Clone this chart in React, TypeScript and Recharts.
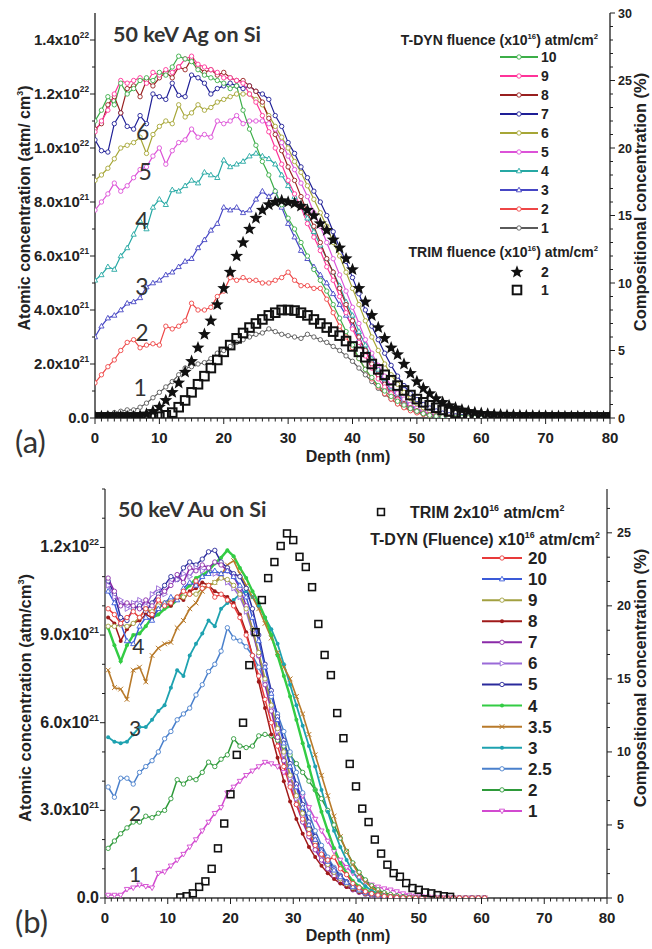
import React from "react";
import { ComposedChart, Line, XAxis, YAxis, ReferenceDot } from "recharts";

// ---------- panel (a): 50 keV Ag on Si, concentration in 1e21 atm/cm3 ----------
const depthA = [
  0, 1, 2, 3, 4, 5, 6, 7, 8, 9, 10, 11, 12, 13, 14, 15, 16, 17, 18, 19, 20,
  21, 22, 23, 24, 25, 26, 27, 28, 29, 30, 31, 32, 33, 34, 35, 36, 37, 38, 39, 40,
  41, 42, 43, 44, 45, 46, 47, 48, 49, 50, 51, 52, 53, 54, 55, 56, 57, 58, 59, 60,
  61, 62, 63, 64, 65, 66, 67, 68, 69, 70, 71, 72, 73, 74, 75, 76, 77, 78, 79, 80,
];

const agTdyn10 = [
  11.0, 11.4, 11.9, 11.6, 12.4, 12.0, 12.2, 12.5, 12.6, 12.5,
  12.8, 12.7, 13.0, 13.4, 13.3, 13.2, 12.9, 12.7, 12.6, 12.5,
  12.4, 12.2, 12.3, 11.4, 10.7, 10.1, 9.5, 9.0, 8.4, 7.9,
  7.4, 7.0, 6.5, 6.0, 5.5, 5.1, 4.7, 4.2, 3.7, 3.2,
  2.7, 2.2, 1.8, 1.5, 1.2, 1.0, 0.8, 0.62, 0.48, 0.35,
  0.25, 0.16, 0.1, 0.07, 0.05, 0.03, 0.02, 0.02, 0.01, 0.01, 0,
];
const agTdyn9 = [
  10.6, 11.0, 11.4, 12.0, 12.5, 12.4, 12.5, 12.6, 12.4, 12.8,
  12.7, 12.9, 12.8, 13.0, 13.3, 13.4, 13.1, 13.0, 12.9, 12.8,
  12.6, 12.6, 12.5, 12.4, 12.0, 11.7, 11.2, 10.6, 10.0, 9.4,
  8.8, 8.3, 7.8, 7.2, 6.7, 6.2, 5.6, 5.1, 4.5, 3.9,
  3.3, 2.8, 2.3, 1.85, 1.45, 1.15, 0.9, 0.68, 0.5, 0.36,
  0.25, 0.17, 0.11, 0.07, 0.05, 0.03, 0.02, 0.01, 0.01, 0, 0,
];
const agTdyn8 = [
  10.7, 10.9, 11.6, 11.9, 11.3, 12.2, 12.3, 11.9, 12.5, 12.3,
  12.6, 12.8, 12.6, 13.0, 12.9, 13.3, 13.0, 12.8, 12.9, 12.7,
  12.8, 12.6, 12.5, 12.5, 12.3, 12.1, 11.7, 11.1, 10.5, 9.9,
  9.3, 8.8, 8.2, 7.6, 7.1, 6.5, 5.9, 5.4, 4.8, 4.2,
  3.6, 3.0, 2.5, 2.0, 1.6, 1.25, 0.95, 0.72, 0.53, 0.38,
  0.27, 0.18, 0.12, 0.08, 0.05, 0.03, 0.02, 0.01, 0.01, 0, 0,
];
const agTdyn7 = [
  10.3, 9.9, 9.85, 10.9, 11.3, 10.8, 10.7, 11.2, 10.9, 12.0,
  11.9, 11.8, 12.4, 11.95, 11.9, 12.7, 12.6, 12.4, 12.0, 12.2,
  12.3, 12.4, 12.3, 12.2, 12.3, 12.1, 12.0, 11.8, 11.2, 10.8,
  10.2, 9.8, 9.3, 8.9, 8.4, 8.0, 7.5, 6.9, 6.3, 5.8,
  5.2, 4.6, 4.0, 3.4, 2.9, 2.4, 1.95, 1.55, 1.2, 0.9,
  0.68, 0.5, 0.37, 0.26, 0.18, 0.12, 0.08, 0.05, 0.03, 0.02, 0.01,
];
const agTdyn6 = [
  8.8, 9.0, 9.25, 9.6, 10.0, 10.1, 10.2, 10.4, 9.8, 10.5,
  10.8, 11.0, 10.9, 11.6, 11.15, 11.3, 11.6, 11.4, 11.5, 11.7,
  11.8, 11.9, 12.0, 12.0, 12.0, 11.8, 11.6, 11.2, 10.8, 10.4,
  10.0, 9.5, 9.1, 8.6, 8.1, 7.6, 7.1, 6.5, 6.0, 5.4,
  4.8, 4.2, 3.6, 3.0, 2.5, 2.0, 1.6, 1.25, 0.95, 0.72,
  0.53, 0.38, 0.27, 0.19, 0.13, 0.09, 0.06, 0.04, 0.02, 0.01, 0,
];
const agTdyn5 = [
  7.7, 8.0, 8.3, 8.7, 8.4, 8.6, 8.9, 9.2, 9.3, 9.7,
  10.0, 9.4, 9.9, 10.2, 10.3, 10.7, 10.4, 10.5, 10.4, 11.0,
  10.9, 11.0, 11.2, 10.9, 11.0, 11.0, 11.0, 10.9, 10.7, 10.2,
  9.7, 9.2, 8.7, 8.2, 7.6, 7.1, 6.5, 5.9, 5.3, 4.7,
  4.1, 3.5, 2.9, 2.4, 1.95, 1.55, 1.2, 0.92, 0.7, 0.5,
  0.36, 0.25, 0.17, 0.11, 0.07, 0.05, 0.03, 0.02, 0.01, 0, 0,
];
const agTdyn4 = [
  5.1, 5.3, 5.6, 5.5, 6.0, 6.3, 6.8, 7.3, 7.0, 7.8,
  8.1, 7.9, 8.45, 8.4, 8.6, 8.8, 8.7, 9.1, 9.0, 8.9,
  9.55, 9.3, 9.4, 9.5, 9.7, 9.8, 9.7, 9.6, 9.4, 9.0,
  8.6, 8.2, 7.8, 7.4, 6.9, 6.4, 5.9, 5.4, 4.9, 4.3,
  3.8, 3.2, 2.7, 2.2, 1.8, 1.45, 1.15, 0.88, 0.66, 0.48,
  0.34, 0.24, 0.16, 0.1, 0.07, 0.04, 0.03, 0.02, 0.01, 0, 0,
];
const agTdyn3 = [
  3.0, 3.4, 3.7, 3.8, 4.0, 4.25, 4.3, 4.45, 4.85, 5.0,
  5.1, 5.3, 5.4, 5.6, 5.8, 5.9, 6.3, 6.6, 6.95, 7.2,
  7.8, 7.7, 7.8, 7.6, 7.7, 8.1, 8.4, 8.2, 8.4, 7.8,
  7.2, 6.7, 6.2, 5.9, 5.6, 5.3, 5.0, 4.6, 4.2, 3.8,
  3.4, 2.9, 2.5, 2.1, 1.7, 1.35, 1.05, 0.8, 0.6, 0.44,
  0.32, 0.22, 0.15, 0.1, 0.07, 0.04, 0.03, 0.02, 0.01, 0, 0,
];
const agTdyn2 = [
  1.3, 1.6, 1.9, 2.15, 2.5, 2.8, 2.9, 2.6, 2.7, 2.75,
  2.7, 3.4, 3.3, 3.4, 3.6, 4.25, 4.0, 4.0, 4.1, 4.5,
  4.7, 5.2, 5.1, 5.2, 5.1, 5.1, 5.0, 5.0, 5.1, 5.2,
  5.4, 5.1, 4.9, 4.9, 4.8, 4.8, 4.4, 3.9, 3.4, 3.0,
  2.6, 2.2, 1.8, 1.45, 1.15, 0.9, 0.7, 0.52, 0.38, 0.27,
  0.19, 0.13, 0.09, 0.06, 0.04, 0.03, 0.02, 0.01, 0, 0, 0,
];
const agTdyn1 = [
  0.1, 0.1, 0.15, 0.2, 0.25, 0.3, 0.3, 0.4, 0.55, 0.75,
  0.95, 1.15, 1.35, 1.6, 1.85, 1.9, 2.0, 2.05, 2.2, 2.4,
  2.5, 2.65, 2.8, 2.9, 3.0, 3.1, 3.15, 3.3, 3.2, 3.1,
  3.05, 3.0, 2.95, 3.1, 3.0, 2.9, 2.8, 2.65, 2.5, 2.3,
  2.1, 1.85, 1.6, 1.35, 1.1, 0.88, 0.7, 0.53, 0.4, 0.3,
  0.22, 0.15, 0.1, 0.07, 0.05, 0.03, 0.02, 0.01, 0.01, 0, 0,
];
const agTrim2 = [
  0.05, 0.05, 0.05, 0.05, 0.05, 0.05, 0.05, 0.08, 0.15, 0.25,
  0.4, 0.65, 0.95, 1.3, 1.7, 2.1, 2.6, 3.1, 3.6, 4.2,
  4.8, 5.4, 6.0, 6.5, 7.0, 7.4, 7.7, 7.9, 8.0, 8.05,
  8.0, 7.95, 7.85, 7.7, 7.5, 7.2, 6.95, 6.6, 6.3, 5.9,
  5.5, 4.8, 4.3, 3.8, 3.35, 2.95, 2.6, 2.35, 2.0, 1.65,
  1.35, 1.1, 0.9, 0.72, 0.58, 0.46, 0.38, 0.3, 0.25, 0.2,
  0.17, 0.15, 0.13, 0.12, 0.1, 0.1, 0.09, 0.08, 0.08, 0.07,
  0.07, 0.06, 0.06, 0.05, 0.05, 0.05, 0.05, 0.04, 0.04, 0.04, 0.04,
];
const agTrim1 = [
  0.02, 0.02, 0.02, 0.02, 0.02, 0.02, 0.02, 0.02, 0.02, 0.03,
  0.05, 0.1, 0.2, 0.4, 0.65, 0.95, 1.25, 1.55, 1.85, 2.15,
  2.45, 2.7, 2.95, 3.15, 3.35, 3.5, 3.65, 3.8, 3.9, 4.0,
  4.0, 3.98, 3.9, 3.8, 3.65, 3.5, 3.35, 3.2, 3.05, 2.85,
  2.65, 2.45, 2.25, 2.0, 1.8, 1.6, 1.4, 1.2, 1.02, 0.85,
  0.7, 0.58, 0.47, 0.38, 0.3, 0.24, 0.19, 0.15, 0.11, 0.08,
  0.06, 0.05, 0.04, 0.03, 0.03, 0.02, 0.02, 0.02, 0.02, 0.02,
  0.02, 0.02, 0.02, 0.02, 0.02, 0.02, 0.02, 0.02, 0.02, 0.02, 0.02,
];

// ---------- panel (b): 50 keV Au on Si ----------
const depthB = [
  0.5, 1.5, 2.5, 3.5, 4.5, 5.5, 6.5, 7.5, 8.5, 9.5, 10.5, 11.5, 12.5, 13.5, 14.5,
  15.5, 16.5, 17.5, 18.5, 19.5, 20.5, 21.5, 22.5, 23.5, 24.5, 25.5, 26.5, 27.5,
  28.5, 29.5, 30.5, 31.5, 32.5, 33.5, 34.5, 35.5, 36.5, 37.5, 38.5, 39.5, 40.5,
  41.5, 42.5, 43.5, 44.5, 45.5, 46.5, 47.5, 48.5, 49.5, 50.5, 51.5, 52.5, 53.5,
  54.5, 55.5, 56.5, 57.5, 58.5, 59.5, 60.5,
];

const auTdyn20 = [
  9.9, 9.7, 9.4, 9.6, 9.8, 9.6, 9.9, 9.7, 10.2, 10.0,
  10.1, 10.3, 10.5, 10.4, 10.85, 10.6, 10.7, 10.3, 10.4, 10.2,
  10.0, 9.6, 9.0, 8.3, 7.6, 6.8, 6.0, 5.2, 4.5, 3.8,
  3.2, 2.7, 2.2, 1.8, 1.5, 1.3, 1.4, 1.0, 0.8, 0.5,
  0.35, 0.22, 0.15, 0.1, 0.06, 0.04, 0.02, 0.01, 0, 0,
  0, 0, 0, 0, 0, 0, 0, 0, 0, 0, 0,
];
const auTdyn10 = [
  10.5, 10.1, 9.4, 8.8, 8.7, 9.3, 9.6, 9.5, 9.9, 10.1,
  10.3, 10.2, 10.6, 10.8, 10.7, 11.0, 11.1, 11.2, 11.1, 11.2,
  11.0, 10.7, 10.3, 9.6, 8.8, 7.9, 7.0, 6.1, 5.3, 4.5,
  3.8, 3.1, 2.5, 2.0, 1.6, 1.25, 0.95, 0.72, 0.53, 0.38,
  0.27, 0.19, 0.13, 0.09, 0.06, 0.04, 0.02, 0.01, 0, 0,
  0, 0, 0, 0, 0, 0, 0, 0, 0, 0, 0,
];
const auTdyn9 = [
  9.3, 9.3, 9.35, 9.3, 9.4, 9.6, 9.9, 9.8, 10.0, 10.1,
  10.2, 10.3, 10.3, 10.4, 10.4, 10.6, 10.7, 10.8, 10.95, 10.9,
  10.7, 10.4, 9.9, 9.2, 8.4, 7.5, 6.6, 5.8, 5.0, 4.2,
  3.5, 2.9, 2.35, 1.9, 1.5, 1.15, 0.88, 0.66, 0.48, 0.35,
  0.25, 0.17, 0.11, 0.07, 0.05, 0.03, 0.02, 0.01, 0, 0,
  0, 0, 0, 0, 0, 0, 0, 0, 0, 0, 0,
];
const auTdyn8 = [
  9.6, 9.4, 8.8, 9.2, 9.4, 9.5, 9.7, 9.6, 9.9, 10.1,
  10.0, 10.3, 10.2, 10.5, 10.6, 10.8, 10.7, 10.5, 10.4, 10.3,
  10.1, 9.7, 9.1, 8.3, 7.4, 6.5, 5.6, 4.8, 4.0, 3.3,
  2.7, 2.2, 1.75, 1.4, 1.1, 0.85, 0.65, 0.5, 0.38, 0.28,
  0.2, 0.14, 0.1, 0.07, 0.05, 0.03, 0.02, 0.01, 0, 0,
  0, 0, 0, 0, 0, 0, 0, 0, 0, 0, 0,
];
const auTdyn7 = [
  10.95, 10.5, 10.0, 10.1, 10.0, 9.9, 10.2, 10.0, 10.3, 10.5,
  10.7, 11.07, 10.8, 11.3, 11.2, 11.4, 11.3, 11.5, 11.4, 11.2,
  11.0, 10.6, 10.0, 9.2, 8.3, 7.3, 6.4, 5.5, 4.7, 3.9,
  3.2, 2.6, 2.1, 1.65, 1.3, 1.0, 0.75, 0.55, 0.4, 0.28,
  0.19, 0.13, 0.08, 0.05, 0.03, 0.02, 0.01, 0, 0, 0,
  0, 0, 0, 0, 0, 0, 0, 0, 0, 0, 0,
];
const auTdyn6 = [
  10.7, 10.3, 10.2, 9.9, 10.1, 10.2, 10.0, 10.4, 10.6, 10.4,
  10.8, 10.9, 11.1, 11.0, 11.3, 11.2, 11.3, 11.1, 11.0, 10.8,
  10.6, 10.3, 9.8, 9.1, 8.3, 7.4, 6.5, 5.7, 4.9, 4.1,
  3.4, 2.8, 2.2, 1.75, 1.35, 1.05, 0.8, 0.6, 0.45, 0.33,
  0.24, 0.17, 0.12, 0.08, 0.05, 0.03, 0.02, 0.01, 0, 0,
  0, 0, 0, 0, 0, 0, 0, 0, 0, 0, 0,
];
const auTdyn5 = [
  10.85, 10.4, 9.6, 9.5, 9.9, 10.0, 9.8, 10.1, 10.4, 10.7,
  11.0, 10.9, 11.3, 11.5, 11.4, 11.6, 11.85, 11.9, 11.5, 11.3,
  11.1, 11.0, 10.6, 9.9, 9.0, 8.0, 7.1, 6.2, 5.4, 4.6,
  3.9, 3.2, 2.6, 2.1, 1.65, 1.3, 1.0, 0.75, 0.55, 0.4,
  0.28, 0.19, 0.13, 0.08, 0.05, 0.03, 0.02, 0.01, 0, 0,
  0, 0, 0, 0, 0, 0, 0, 0, 0, 0, 0,
];
const auTdyn4 = [
  9.25, 8.65, 8.1, 8.65, 9.0, 9.05, 9.3, 9.6, 9.7, 9.9,
  10.0, 10.2, 10.5, 10.7, 10.95, 11.05, 11.2, 11.45, 11.65, 11.9,
  11.7, 11.3, 10.95, 10.5, 10.1, 9.6, 9.0, 8.3, 7.6, 6.9,
  6.1, 5.3, 4.5, 3.7, 2.95, 2.3, 1.7, 1.2, 0.85, 0.58,
  0.4, 0.27, 0.18, 0.12, 0.08, 0.05, 0.03, 0.02, 0.01, 0,
  0, 0, 0, 0, 0, 0, 0, 0, 0, 0, 0,
];
const auTdyn35 = [
  7.8, 7.2, 7.15, 6.8, 7.8, 7.9, 7.4, 8.3, 8.55, 8.7,
  8.75, 9.25, 9.5, 9.9, 10.1, 10.5, 10.7, 10.8, 11.05, 11.4,
  11.55, 11.1, 10.7, 10.3, 9.9, 9.4, 8.9, 8.4, 7.9, 7.5,
  6.9, 6.3, 5.6, 4.9, 4.2, 3.5, 2.8, 2.1, 1.6, 1.15,
  0.8, 0.55, 0.36, 0.23, 0.14, 0.08, 0.05, 0.03, 0.01, 0,
  0, 0, 0, 0, 0, 0, 0, 0, 0, 0, 0,
];
const auTdyn3 = [
  5.5, 5.35, 5.3, 5.35, 5.6, 5.85, 5.85, 6.1, 6.4, 6.6,
  7.2, 7.8, 7.6, 8.3, 8.7, 9.05, 9.5, 9.3, 9.9, 10.1,
  10.2, 10.4, 10.5, 10.3, 10.0, 9.6, 9.2, 8.7, 8.0, 7.3,
  6.6, 5.9, 5.2, 4.5, 3.7, 2.95, 2.3, 1.75, 1.3, 0.9,
  0.6, 0.4, 0.25, 0.16, 0.1, 0.06, 0.04, 0.02, 0.01, 0,
  0, 0, 0, 0, 0, 0, 0, 0, 0, 0, 0,
];
const auTdyn25 = [
  3.8, 3.45, 4.1, 4.1, 3.9, 4.3, 4.5, 4.7, 5.0, 5.45,
  5.7, 6.1, 6.3, 6.5, 6.95, 7.3, 7.75, 8.0, 8.45, 9.25,
  8.9, 8.8, 8.6, 8.3, 7.9, 7.4, 6.9, 6.3, 5.7, 5.0,
  4.3, 3.6, 2.9, 2.3, 1.8, 1.4, 1.05, 0.78, 0.56, 0.4,
  0.28, 0.19, 0.12, 0.08, 0.05, 0.03, 0.02, 0.01, 0, 0,
  0, 0, 0, 0, 0, 0, 0, 0, 0, 0, 0,
];
const auTdyn2 = [
  1.7, 1.95, 2.2, 2.4, 2.6, 2.6, 2.8, 2.75, 2.9, 3.0,
  3.4, 4.05, 3.9, 4.1, 4.05, 4.3, 4.65, 4.5, 4.75, 4.9,
  5.45, 5.2, 5.15, 5.2, 5.55, 5.6, 5.55, 5.4, 5.2, 4.9,
  4.6, 4.3, 4.0, 3.7, 3.4, 3.0, 2.5, 2.05, 1.6, 1.2,
  0.88, 0.62, 0.42, 0.28, 0.18, 0.12, 0.08, 0.05, 0.03, 0.02,
  0.01, 0.01, 0, 0, 0, 0, 0, 0, 0, 0, 0,
];
const auTdyn1 = [
  0.1, 0.1, 0.1, 0.3, 0.35, 0.45, 0.4, 0.35, 0.85, 0.9,
  1.1, 1.3, 1.5, 1.75, 2.0, 2.3, 2.6, 2.9, 3.1, 3.6,
  3.8, 4.0, 4.2, 4.35, 4.5, 4.65, 4.6, 4.5, 4.3, 4.1,
  3.8, 3.5, 3.1, 2.7, 2.3, 1.95, 1.6, 1.3, 1.05, 0.85,
  0.7, 0.55, 0.45, 0.38, 0.32, 0.28, 0.22, 0.15, 0.1, 0.07,
  0.05, 0.04, 0.03, 0.02, 0.01, 0.01, 0, 0, 0, 0, 0,
];
const trimDepthB = [
  12, 13, 14, 15, 16, 17, 18, 19, 20, 21, 22, 23, 24, 25, 26, 27, 28, 29, 30, 31,
  32, 33, 34, 35, 36, 37, 38, 39, 40, 41, 42, 43, 44, 45, 46, 47, 48, 49, 50, 51,
  52, 53, 54, 55,
];
const auTrim2 = [
  0.02, 0.06, 0.16, 0.38, 0.57, 1.0, 1.7, 2.55, 3.55, 4.9,
  6.0, 7.97, 9.1, 10.2, 10.95, 11.5, 12.05, 12.48, 12.25, 11.68,
  11.33, 10.64, 9.38, 8.32, 7.63, 6.33, 5.47, 4.59, 3.82, 3.06,
  2.6, 2.0, 1.52, 1.14, 0.85, 0.73, 0.51, 0.34, 0.28, 0.19,
  0.16, 0.1, 0.06, 0.04,
];

// ticks
const concTicksA = [0, 1, 2, 3, 4, 5, 6, 7, 8, 9, 10, 11, 12, 13, 14];
const pctTicksA = [
  0, 1, 2, 3, 4, 5, 6, 7, 8, 9, 10, 11, 12, 13, 14, 15, 16, 17, 18, 19, 20,
  21, 22, 23, 24, 25, 26, 27, 28, 29, 30,
];
const concTicksB = [0, 1, 2, 3, 4, 5, 6, 7, 8, 9, 10, 11, 12, 13, 14];
const pctTicksB = [
  0, 1.67, 3.33, 5, 6.67, 8.33, 10, 11.67, 13.33, 15, 16.67, 18.33, 20, 21.67,
  23.33, 25, 26.67,
];

const agSeries = [
  { name: "1", color: "#5a5a5a", shape: "circle", values: agTdyn1 },
  { name: "2", color: "#ee4646", shape: "circle", values: agTdyn2 },
  { name: "3", color: "#4646c4", shape: "tri", values: agTdyn3 },
  { name: "4", color: "#26a8a4", shape: "tri", values: agTdyn4 },
  { name: "5", color: "#dc52d8", shape: "circle", values: agTdyn5 },
  { name: "6", color: "#a6a636", shape: "circle", values: agTdyn6 },
  { name: "7", color: "#1e1e96", shape: "circle", values: agTdyn7 },
  { name: "8", color: "#981f1f", shape: "circle", values: agTdyn8 },
  { name: "9", color: "#ff3399", shape: "circle", values: agTdyn9 },
  { name: "10", color: "#3cae48", shape: "circle", values: agTdyn10 },
];

const auSeries = [
  { name: "1", color: "#d24ad0", shape: "triDown", values: auTdyn1, w: 1.5 },
  { name: "2", color: "#2e9a3a", shape: "circle", values: auTdyn2, w: 1.5 },
  { name: "2.5", color: "#4a80cc", shape: "circle", values: auTdyn25, w: 1.5 },
  { name: "3", color: "#1ea2b0", shape: "fill", values: auTdyn3, w: 1.8 },
  { name: "3.5", color: "#b87a2a", shape: "cross", values: auTdyn35, w: 1.6 },
  { name: "4", color: "#33cc44", shape: "fill", values: auTdyn4, w: 2.4 },
  { name: "5", color: "#2a2a9c", shape: "circle", values: auTdyn5, w: 1.5 },
  { name: "6", color: "#9a6ad8", shape: "triRight", values: auTdyn6, w: 1.5 },
  { name: "7", color: "#8a2aa8", shape: "circle", values: auTdyn7, w: 1.5 },
  { name: "8", color: "#a01a1a", shape: "fill", values: auTdyn8, w: 1.5 },
  { name: "9", color: "#a2a040", shape: "circle", values: auTdyn9, w: 1.5 },
  { name: "10", color: "#3a5ad8", shape: "tri", values: auTdyn10, w: 1.5 },
  { name: "20", color: "#e83a3a", shape: "circle", values: auTdyn20, w: 1.5 },
];

const curveLabelsA = [
  { t: "6", x: 7.4, y: 10.6 },
  { t: "5", x: 7.8, y: 9.1 },
  { t: "4", x: 7.3, y: 7.3 },
  { t: "3", x: 7.3, y: 4.85 },
  { t: "2", x: 7.3, y: 3.15 },
  { t: "1", x: 7.0, y: 1.1 },
];
const curveLabelsB = [
  { t: "4", x: 5.3, y: 8.6 },
  { t: "3", x: 4.8, y: 5.8 },
  { t: "2", x: 4.8, y: 2.9 },
  { t: "1", x: 4.8, y: 0.8 },
];

const AX = "#1e1e1e";
const ARIAL = "'Liberation Sans', Arial, sans-serif";
const CAL = "Lato, 'Open Sans', sans-serif";

const toPoints = (xs: number[], vs: number[]) =>
  vs.map((v, i) => ({ depth: xs[i], v }));

function starPath(cx: number, cy: number, R: number, r: number) {
  let d = "";
  for (let k = 0; k < 10; k++) {
    const a = ((-90 + k * 36) * Math.PI) / 180;
    const rad = k % 2 === 0 ? R : r;
    d += (k === 0 ? "M" : "L") + (cx + rad * Math.cos(a)).toFixed(2) + "," + (cy + rad * Math.sin(a)).toFixed(2);
  }
  return d + "Z";
}

function Marker({ shape, cx, cy, color }: { shape: string; cx: number; cy: number; color: string }) {
  if (cx == null || cy == null || isNaN(cx) || isNaN(cy)) return null;
  switch (shape) {
    case "tri":
      return <path d={`M${cx},${cy - 2.8}L${cx + 2.6},${cy + 1.8}L${cx - 2.6},${cy + 1.8}Z`} fill="#fff" stroke={color} strokeWidth={0.9} />;
    case "triDown":
      return <path d={`M${cx},${cy + 2.8}L${cx + 2.6},${cy - 1.8}L${cx - 2.6},${cy - 1.8}Z`} fill="#fff" stroke={color} strokeWidth={0.9} />;
    case "triRight":
      return <path d={`M${cx + 2.8},${cy}L${cx - 1.8},${cy + 2.6}L${cx - 1.8},${cy - 2.6}Z`} fill="#fff" stroke={color} strokeWidth={0.9} />;
    case "fill":
      return <circle cx={cx} cy={cy} r={2} fill={color} />;
    case "cross":
      return <path d={`M${cx - 2.4},${cy - 2.4}L${cx + 2.4},${cy + 2.4}M${cx - 2.4},${cy + 2.4}L${cx + 2.4},${cy - 2.4}`} stroke={color} strokeWidth={1} />;
    case "star":
      return <path d={starPath(cx, cy, 6.8, 2.9)} fill="#111" />;
    case "square":
      return <rect x={cx - 4.3} y={cy - 4.3} width={8.6} height={8.6} fill="none" stroke="#111" strokeWidth={2} />;
    case "squareSm":
      return <rect x={cx - 3.4} y={cy - 3.4} width={6.8} height={6.8} fill="none" stroke="#111" strokeWidth={1.6} />;
    default:
      return <circle cx={cx} cy={cy} r={2.2} fill="#fff" stroke={color} strokeWidth={0.9} />;
  }
}

const dotFor = (shape: string, color: string) => (p: any) =>
  <Marker key={`d${p.index}`} shape={shape} cx={p.cx} cy={p.cy} color={color} />;

function BottomTick(props: any) {
  const { x, y, payload, fs } = props;
  const major = payload.value % 10 === 0;
  return (
    <g>
      <line x1={x} x2={x} y1={y} y2={y + (major ? 6 : 3.5)} stroke={AX} strokeWidth={1} />
      {major && (
        <text x={x} y={y + 25} textAnchor="middle" fontFamily={ARIAL} fontWeight="bold" fontSize={fs} fill="#222">
          {payload.value}
        </text>
      )}
    </g>
  );
}

function TopTick(props: any) {
  const { x, y, payload } = props;
  const major = payload.value % 10 === 0;
  return <line x1={x} x2={x} y1={y} y2={y + (major ? 6 : 3.5)} stroke={AX} strokeWidth={1} />;
}

function LeftTick(props: any) {
  const { x, y, payload, step, fs } = props;
  const v = payload.value;
  const major = Math.abs(v / step - Math.round(v / step)) < 1e-6;
  let label: React.ReactNode = null;
  if (major) {
    if (v === 0) {
      label = "0.0";
    } else {
      const mant = v < 10 ? v.toFixed(1) : (v / 10).toFixed(1);
      const exp = v < 10 ? "21" : "22";
      label = (
        <>
          {mant}x10<tspan dy={-7} fontSize={fs * 0.55}>{exp}</tspan>
        </>
      );
    }
  }
  return (
    <g>
      <line x1={x - (major ? 5 : 3)} x2={x} y1={y} y2={y} stroke={AX} strokeWidth={1} />
      {major && (
        <text x={x - 6} y={y + 5} textAnchor="end" fontFamily={ARIAL} fontWeight="bold" fontSize={fs} fill="#222">
          {label}
        </text>
      )}
    </g>
  );
}

function RightTick(props: any) {
  const { x, y, payload, gap } = props;
  const v = payload.value;
  const major = Math.abs(v - Math.round(v / 5) * 5) < 0.05;
  return (
    <g>
      <line x1={x} x2={x + (major ? 5 : 3)} y1={y} y2={y} stroke={AX} strokeWidth={1} />
      {major && (
        <text x={x + gap} y={y + 4.5} textAnchor="start" fontFamily={ARIAL} fontWeight="bold" fontSize={12.5} fill="#222">
          {Math.round(v)}
        </text>
      )}
    </g>
  );
}

const sup = (t: string, fs: number) => (
  <tspan dy={-fs * 0.45} fontSize={fs * 0.55}>{t}</tspan>
);

function PanelA() {
  const axisLine = { stroke: AX, strokeWidth: 1.3 };
  return (
    <div style={{ position: "absolute", left: 0, top: 0, width: 652, height: 470 }}>
      <ComposedChart width={652} height={470} margin={{ top: 13, right: 0, bottom: 0, left: 0 }}>
        <XAxis xAxisId="b" dataKey="depth" type="number" domain={[0, 80]} ticks={depthA} interval={0}
          height={52} tickSize={0} tickMargin={0} tickLine={false} axisLine={axisLine}
          tick={(p: any) => <BottomTick {...p} fs={15} />} allowDataOverflow />
        <XAxis xAxisId="t" orientation="top" dataKey="depth" type="number" domain={[0, 80]} ticks={depthA} interval={0}
          height={0} tickSize={0} tickMargin={0} tickLine={false} axisLine={axisLine}
          tick={(p: any) => <TopTick {...p} />} allowDataOverflow />
        <YAxis yAxisId="l" type="number" domain={[0, 15]} ticks={concTicksA} interval={0} width={95}
          tickSize={0} tickMargin={0} tickLine={false} axisLine={axisLine}
          tick={(p: any) => <LeftTick {...p} step={2} fs={15} />} allowDataOverflow />
        <YAxis yAxisId="r" orientation="right" type="number" domain={[0, 30]} ticks={pctTicksA} interval={0} width={42}
          tickSize={0} tickMargin={0} tickLine={false} axisLine={axisLine}
          tick={(p: any) => <RightTick {...p} gap={8} />} allowDataOverflow />
        {agSeries.map((s) => (
          <Line key={s.name} xAxisId="b" yAxisId="l" data={toPoints(depthA, s.values)} dataKey="v" type="linear"
            stroke={s.color} strokeWidth={1.2} dot={dotFor(s.shape, s.color)} activeDot={false} isAnimationActive={false} />
        ))}
        <Line xAxisId="b" yAxisId="l" data={toPoints(depthA, agTrim1)} dataKey="v" stroke="none"
          dot={dotFor("square", "#111")} activeDot={false} isAnimationActive={false} />
        <Line xAxisId="b" yAxisId="l" data={toPoints(depthA, agTrim2)} dataKey="v" stroke="none"
          dot={dotFor("star", "#111")} activeDot={false} isAnimationActive={false} />
        {curveLabelsA.map((c) => (
          <ReferenceDot key={c.t} xAxisId="b" yAxisId="l" x={c.x} y={c.y} r={1} fill="none" stroke="none"
            label={{ value: c.t, position: "center", fontSize: 23, fill: "#333", fontFamily: CAL }} />
        ))}
      </ComposedChart>
      <svg width={652} height={470} style={{ position: "absolute", left: 0, top: 0, pointerEvents: "none" }}>
        <text x={113} y={42} fontFamily={CAL} fontWeight={700} fontSize={21.5} fill="#333">50 keV Ag on Si</text>
        <text x={15} y={453} fontFamily={CAL} fontSize={31} fill="#333">(a)</text>
        <text x={348} y={462} textAnchor="middle" fontFamily={ARIAL} fontWeight="bold" fontSize={16} fill="#222">Depth (nm)</text>
        <text transform="translate(30,208) rotate(-90)" textAnchor="middle" fontFamily={ARIAL} fontWeight="bold" fontSize={16} fill="#222">
          Atomic concentration (atm/ cm{sup("3", 16)}<tspan dy={7}>)</tspan>
        </text>
        <text transform="translate(646,202) rotate(-90)" textAnchor="middle" fontFamily={ARIAL} fontWeight="bold" fontSize={16.5} fill="#222">
          Compositional concentration (%)
        </text>
        <text x={598} y={45} textAnchor="end" fontFamily={ARIAL} fontWeight="bold" fontSize={14} fill="#222">
          T-DYN fluence (x10{sup("16", 14)}<tspan dy={6.3}>) atm/cm</tspan>{sup("2", 14)}
        </text>
        {agSeries.slice().reverse().map((s, i) => {
          const y = 57 + i * 19;
          return (
            <g key={s.name}>
              <line x1={500} x2={538} y1={y} y2={y} stroke={s.color} strokeWidth={1.8} />
              <Marker shape={s.shape} cx={519} cy={y} color={s.color} />
              <text x={541} y={y + 5} fontFamily={ARIAL} fontWeight="bold" fontSize={14} fill="#222">{s.name}</text>
            </g>
          );
        })}
        <text x={598} y={257} textAnchor="end" fontFamily={ARIAL} fontWeight="bold" fontSize={14} fill="#222">
          TRIM fluence (x10{sup("16", 14)}<tspan dy={6.3}>) atm/cm</tspan>{sup("2", 14)}
        </text>
        <Marker shape="star" cx={517} cy={272} color="#111" />
        <text x={541} y={277} fontFamily={ARIAL} fontWeight="bold" fontSize={14} fill="#222">2</text>
        <Marker shape="square" cx={517} cy={290} color="#111" />
        <text x={541} y={295} fontFamily={ARIAL} fontWeight="bold" fontSize={14} fill="#222">1</text>
      </svg>
    </div>
  );
}

function PanelB() {
  const axisLine = { stroke: "#333", strokeWidth: 1.3 };
  return (
    <div style={{ position: "absolute", left: 0, top: 470, width: 652, height: 479 }}>
      <ComposedChart width={652} height={479} margin={{ top: 19, right: 0, bottom: 0, left: 0 }}>
        <XAxis xAxisId="b" dataKey="depth" type="number" domain={[0, 80]} ticks={depthA} interval={0}
          height={51} tickSize={0} tickMargin={0} tickLine={false} axisLine={axisLine}
          tick={(p: any) => <BottomTick {...p} fs={15} />} allowDataOverflow />
        <XAxis xAxisId="t" orientation="top" dataKey="depth" type="number" domain={[0, 80]} ticks={depthA} interval={0}
          height={0} tickSize={0} tickMargin={0} tickLine={false} axisLine={axisLine}
          tick={(p: any) => <TopTick {...p} />} allowDataOverflow />
        <YAxis yAxisId="l" type="number" domain={[0, 14]} ticks={concTicksB} interval={0} width={105}
          tickSize={0} tickMargin={0} tickLine={false} axisLine={axisLine}
          tick={(p: any) => <LeftTick {...p} step={3} fs={16} />} allowDataOverflow />
        <YAxis yAxisId="r" orientation="right" type="number" domain={[0, 28]} ticks={pctTicksB} interval={0} width={45}
          tickSize={0} tickMargin={0} tickLine={false} axisLine={axisLine}
          tick={(p: any) => <RightTick {...p} gap={10} />} allowDataOverflow />
        {auSeries.map((s) => (
          <Line key={s.name} xAxisId="b" yAxisId="l" data={toPoints(depthB, s.values)} dataKey="v" type="linear"
            stroke={s.color} strokeWidth={s.w} dot={dotFor(s.shape, s.color)} activeDot={false} isAnimationActive={false} />
        ))}
        <Line xAxisId="b" yAxisId="l" data={toPoints(trimDepthB, auTrim2)} dataKey="v" stroke="none"
          dot={dotFor("squareSm", "#111")} activeDot={false} isAnimationActive={false} />
        {curveLabelsB.map((c) => (
          <ReferenceDot key={c.t} xAxisId="b" yAxisId="l" x={c.x} y={c.y} r={1} fill="none" stroke="none"
            label={{ value: c.t, position: "center", fontSize: 21, fill: "#333", fontFamily: CAL }} />
        ))}
      </ComposedChart>
      <svg width={652} height={479} style={{ position: "absolute", left: 0, top: 0, pointerEvents: "none" }}>
        <text x={118} y={47} fontFamily={CAL} fontWeight={700} fontSize={21.5} fill="#333">50 keV Au on Si</text>
        <text x={15} y={463} fontFamily={CAL} fontSize={31} fill="#333">(b)</text>
        <text x={348} y={471} textAnchor="middle" fontFamily={ARIAL} fontWeight="bold" fontSize={16} fill="#222">Depth (nm)</text>
        <text transform="translate(31,228) rotate(-90)" textAnchor="middle" fontFamily={ARIAL} fontWeight="bold" fontSize={16.5} fill="#222">
          Atomic concentration (atm/cm{sup("3", 16.5)}<tspan dy={7.4}>)</tspan>
        </text>
        <text transform="translate(646,208) rotate(-90)" textAnchor="middle" fontFamily={ARIAL} fontWeight="bold" fontSize={16.5} fill="#222">
          Compositional concentration (%)
        </text>
        <Marker shape="squareSm" cx={381} cy={42} color="#111" />
        <text x={410} y={48} fontFamily={ARIAL} fontWeight="bold" fontSize={16} fill="#222">
          TRIM 2x10{sup("16", 16)}<tspan dy={7.2}> atm/cm</tspan>{sup("2", 16)}
        </text>
        <text x={600} y={75} textAnchor="end" fontFamily={ARIAL} fontWeight="bold" fontSize={16} fill="#222">
          T-DYN (Fluence) x10{sup("16", 16)}<tspan dy={7.2}> atm/cm</tspan>{sup("2", 16)}
        </text>
        {auSeries.slice().reverse().map((s, i) => {
          const y = 88 + i * 21.08;
          return (
            <g key={s.name}>
              <line x1={482} x2={522} y1={y} y2={y} stroke={s.color} strokeWidth={2} />
              <Marker shape={s.shape} cx={502} cy={y} color={s.color} />
              <text x={528} y={y + 6} fontFamily={ARIAL} fontWeight="bold" fontSize={17} fill="#222">{s.name}</text>
            </g>
          );
        })}
      </svg>
    </div>
  );
}

export default function App() {
  return (
    <div style={{ position: "absolute", left: 0, top: 0, width: 652, height: 949, background: "#fff", overflow: "hidden" }}>
      <PanelA />
      <PanelB />
    </div>
  );
}
